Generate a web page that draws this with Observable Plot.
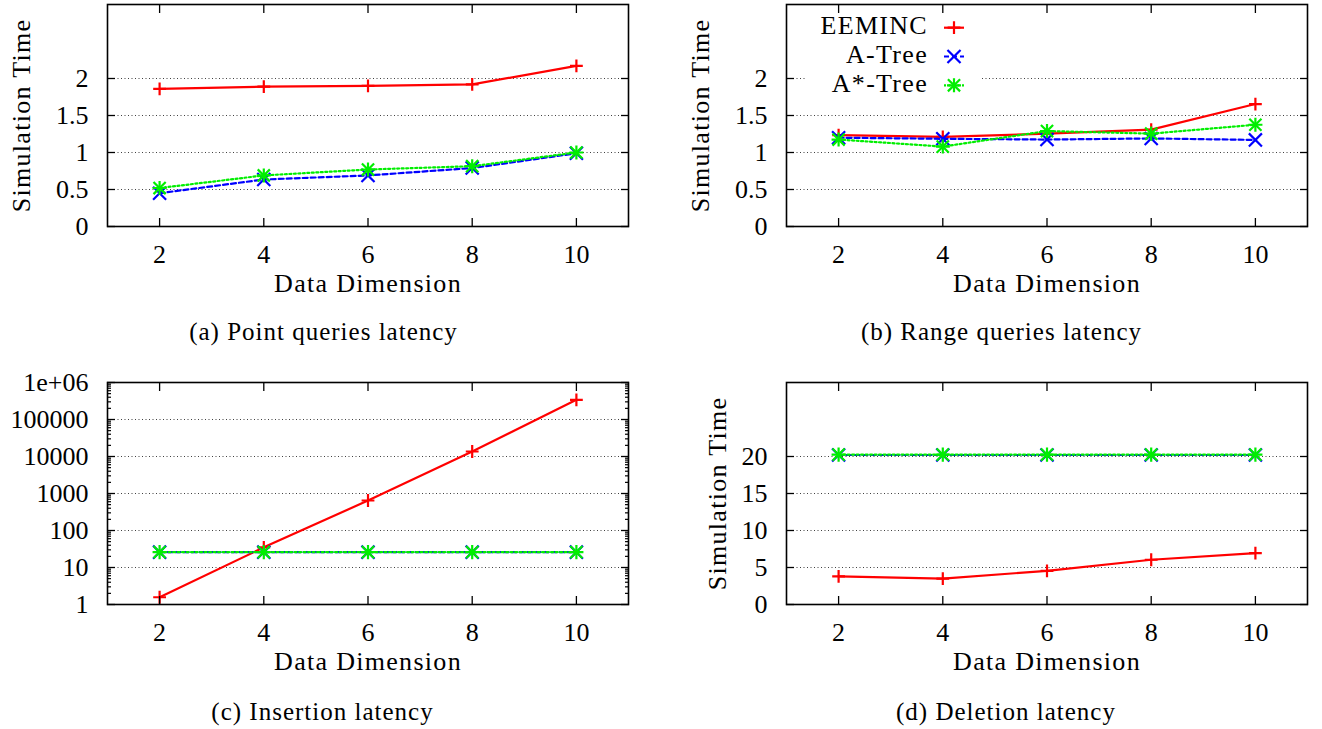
<!DOCTYPE html>
<html><head><meta charset="utf-8">
<script src="https://cdn.jsdelivr.net/npm/d3@7"></script>
<script src="https://cdn.jsdelivr.net/npm/@observablehq/plot@0.6"></script>
<style>
html,body{margin:0;padding:0;background:#fff;overflow:hidden;width:1322px;height:729px;}
.panel{position:absolute;}
.caption{position:absolute;width:400px;text-align:center;font-family:"Liberation Serif",serif;font-size:25px;line-height:25px;letter-spacing:1px;color:#000;white-space:nowrap;}
svg [aria-label="x-axis label"] text, svg [aria-label="y-axis label"] text{letter-spacing:1.3px;}
#legend{position:absolute;left:800px;top:0px;}
</style></head><body>
<script>
// ---- data ----
const dims = [2, 4, 6, 8, 10];
const seriesNames = ["EEMINC", "A-Tree", "A*-Tree"];

const pointEEMINC    = [1.86, 1.89, 1.90, 1.92, 2.17];
const pointATree     = [0.45, 0.635, 0.69, 0.79, 0.99];
const pointAStarTree = [0.52, 0.69, 0.77, 0.815, 1.0];

const rangeEEMINC    = [1.235, 1.21, 1.255, 1.31, 1.655];
const rangeATree     = [1.20, 1.185, 1.175, 1.19, 1.17];
const rangeAStarTree = [1.175, 1.08, 1.29, 1.255, 1.375];

const insertEEMINC    = [1.57, 35, 646, 13650, 340000];
const insertATree     = [26, 26, 26, 26, 26];
const insertAStarTree = [26, 26, 26, 26, 26];

const deleteEEMINC    = [3.8, 3.5, 4.55, 6.05, 6.95];
const deleteATree     = [20.2, 20.2, 20.2, 20.2, 20.2];
const deleteAStarTree = [20.25, 20.25, 20.25, 20.25, 20.25];

const xTicks = [2, 4, 6, 8, 10];
const timeTicks = [0, 0.5, 1, 1.5, 2];
const timeTickLabels = ["0", "0.5", "1", "1.5", "2"];
const logTicks = [1, 10, 100, 1000, 10000, 100000, 1000000];
const logTickLabels = ["1", "10", "100", "1000", "10000", "100000", "1e+06"];
const delTicks = [0, 5, 10, 15, 20];
const delTickLabels = ["0", "5", "10", "15", "20"];
const captions = ["(a) Point queries latency", "(b) Range queries latency", "(c) Insertion latency", "(d) Deletion latency"];
const xLabel = "Data Dimension";
const yLabel = "Simulation Time";

// minor ticks for the log axis (2..9 x 10^k)
const logMinor = [];
for (let k = 0; k < 6; k++) for (let m = 2; m <= 9; m++) logMinor.push(m * Math.pow(10, k));

const RED = "#ff0000", BLUE = "#0000ff", GREEN = "#00ee00";
const FONT = "'Liberation Serif', serif";

function panel(cfg) {
  const rows = [];
  cfg.series.forEach((vals, i) => vals.forEach((v, j) => rows.push({dim: dims[j], value: v, series: seriesNames[i]})));
  const sel = n => rows.filter(r => r.series === n);
  const labMap = new Map(cfg.yTicks.map((t, i) => [t, cfg.yTickLabels[i]]));
  const marks = [
    Plot.gridY({ticks: cfg.yTicks.slice(1), stroke: "#000", strokeOpacity: 0.75, strokeDasharray: "1,2.5", strokeWidth: 1}),
    Plot.line(sel("EEMINC"), {x: "dim", y: "value", stroke: RED, strokeWidth: 2.2}),
    Plot.dot(sel("EEMINC"), {x: "dim", y: "value", symbol: "plus", r: 4.2, stroke: RED, fill: "none", strokeWidth: 2.2}),
    Plot.line(sel("A-Tree"), {x: "dim", y: "value", stroke: BLUE, strokeWidth: 2.2, strokeDasharray: "5,3"}),
    Plot.dot(sel("A-Tree"), {x: "dim", y: "value", symbol: "times", r: 6, stroke: BLUE, fill: "none", strokeWidth: 2.2}),
    Plot.line(sel("A*-Tree"), {x: "dim", y: "value", stroke: GREEN, strokeWidth: 2.2, strokeDasharray: "2,2.5"}),
    Plot.dot(sel("A*-Tree"), {x: "dim", y: "value", symbol: "plus", r: 4.6, stroke: GREEN, fill: "none", strokeWidth: 2.2}),
    Plot.dot(sel("A*-Tree"), {x: "dim", y: "value", symbol: "times", r: 5.6, stroke: GREEN, fill: "none", strokeWidth: 2.2}),
    Plot.frame({stroke: "#000", strokeWidth: 1.6}),
    Plot.axisX({ticks: xTicks, tickSize: -8, tickPadding: 26, strokeWidth: 1.3, tickFormat: d => String(d), label: xLabel, labelArrow: "none", labelAnchor: "center", labelOffset: 65}),
    Plot.axisX({ticks: xTicks, anchor: "top", tickSize: -8, strokeWidth: 1.3, fill: "none", label: null}),
    Plot.axisY({ticks: cfg.yTicks, tickSize: -8, tickPadding: 27, strokeWidth: 1.3, tickFormat: d => labMap.get(d), label: cfg.yLabel, labelArrow: "none", labelAnchor: "center", labelOffset: cfg.labelOffset}),
    Plot.axisY({ticks: cfg.yTicks, anchor: "right", tickSize: -8, strokeWidth: 1.3, fill: "none", label: null})
  ];
  if (cfg.minor) {
    marks.push(Plot.axisY({ticks: cfg.minor, tickSize: -4, strokeWidth: 1.2, fill: "none", label: null}));
    marks.push(Plot.axisY({ticks: cfg.minor, anchor: "right", tickSize: -4, strokeWidth: 1.2, fill: "none", label: null}));
  }
  const chart = Plot.plot({
    width: cfg.width, height: 296 + cfg.marginTop,
    marginLeft: 107, marginRight: cfg.width - 107 - 521, marginTop: cfg.marginTop, marginBottom: 74,
    style: {fontFamily: FONT, fontSize: "26px", background: "transparent", color: "#000"},
    x: {domain: [1, 11]},
    y: cfg.log ? {type: "log", domain: [1, 1e6]} : {domain: cfg.yDomain},
    marks
  });
  const div = document.createElement("div");
  div.className = "panel";
  div.style.left = cfg.left + "px";
  div.style.top = cfg.top + "px";
  div.appendChild(chart);
  document.body.appendChild(div);
}

panel({left: 0, top: 0, marginTop: 4, width: 660, series: [pointEEMINC, pointATree, pointAStarTree], yDomain: [0, 3], yTicks: timeTicks, yTickLabels: timeTickLabels, yLabel, labelOffset: 96});
panel({left: 679, top: 0, marginTop: 4, width: 643, series: [rangeEEMINC, rangeATree, rangeAStarTree], yDomain: [0, 3], yTicks: timeTicks, yTickLabels: timeTickLabels, yLabel, labelOffset: 96});
panel({left: 0, top: 358, marginTop: 24, width: 660, series: [insertEEMINC, insertATree, insertAStarTree], log: true, yTicks: logTicks, yTickLabels: logTickLabels, yLabel: null, labelOffset: 96, minor: logMinor});
panel({left: 679, top: 358, marginTop: 24, width: 643, series: [deleteEEMINC, deleteATree, deleteAStarTree], yDomain: [0, 30], yTicks: delTicks, yTickLabels: delTickLabels, yLabel, labelOffset: 79});

// captions
const capPos = [[323.5, 319], [1001.5, 319], [322.5, 699], [1006, 699]];
captions.forEach((c, i) => {
  const d = document.createElement("div");
  d.className = "caption";
  d.textContent = c;
  d.style.left = (capPos[i][0] - 200) + "px";
  d.style.top = capPos[i][1] + "px";
  document.body.appendChild(d);
});

// legend (key) of panel (b)
const legendColors = [RED, BLUE, GREEN];
const legendDash = [null, "5,3", "2,2.5"];
const lg = d3.select("body").append("svg").attr("id", "legend").attr("width", 200).attr("height", 110);
lg.append("rect").attr("x", 5).attr("y", 13).attr("width", 176).attr("height", 87).attr("fill", "#fff");
seriesNames.forEach((n, i) => {
  const cy = 27.7 + i * 28.8;
  lg.append("text").attr("x", 128).attr("y", cy + 6.5).attr("text-anchor", "end")
    .attr("font-family", FONT).attr("font-size", 26).attr("letter-spacing", "1.3px").text(n);
  lg.append("line").attr("x1", 144).attr("x2", 164).attr("y1", cy).attr("y2", cy)
    .attr("stroke", legendColors[i]).attr("stroke-width", 2.2).attr("stroke-dasharray", legendDash[i]);
  const syms = i === 0 ? [[d3.symbolPlus, 4.2]] : i === 1 ? [[d3.symbolTimes, 6]] : [[d3.symbolPlus, 4.6], [d3.symbolTimes, 5.6]];
  syms.forEach(([s, r]) => {
    lg.append("path").attr("transform", `translate(154,${cy})`).attr("d", d3.symbol(s, Math.PI * r * r)())
      .attr("fill", "none").attr("stroke", legendColors[i]).attr("stroke-width", 2.2);
  });
});
</script>
</body></html>
